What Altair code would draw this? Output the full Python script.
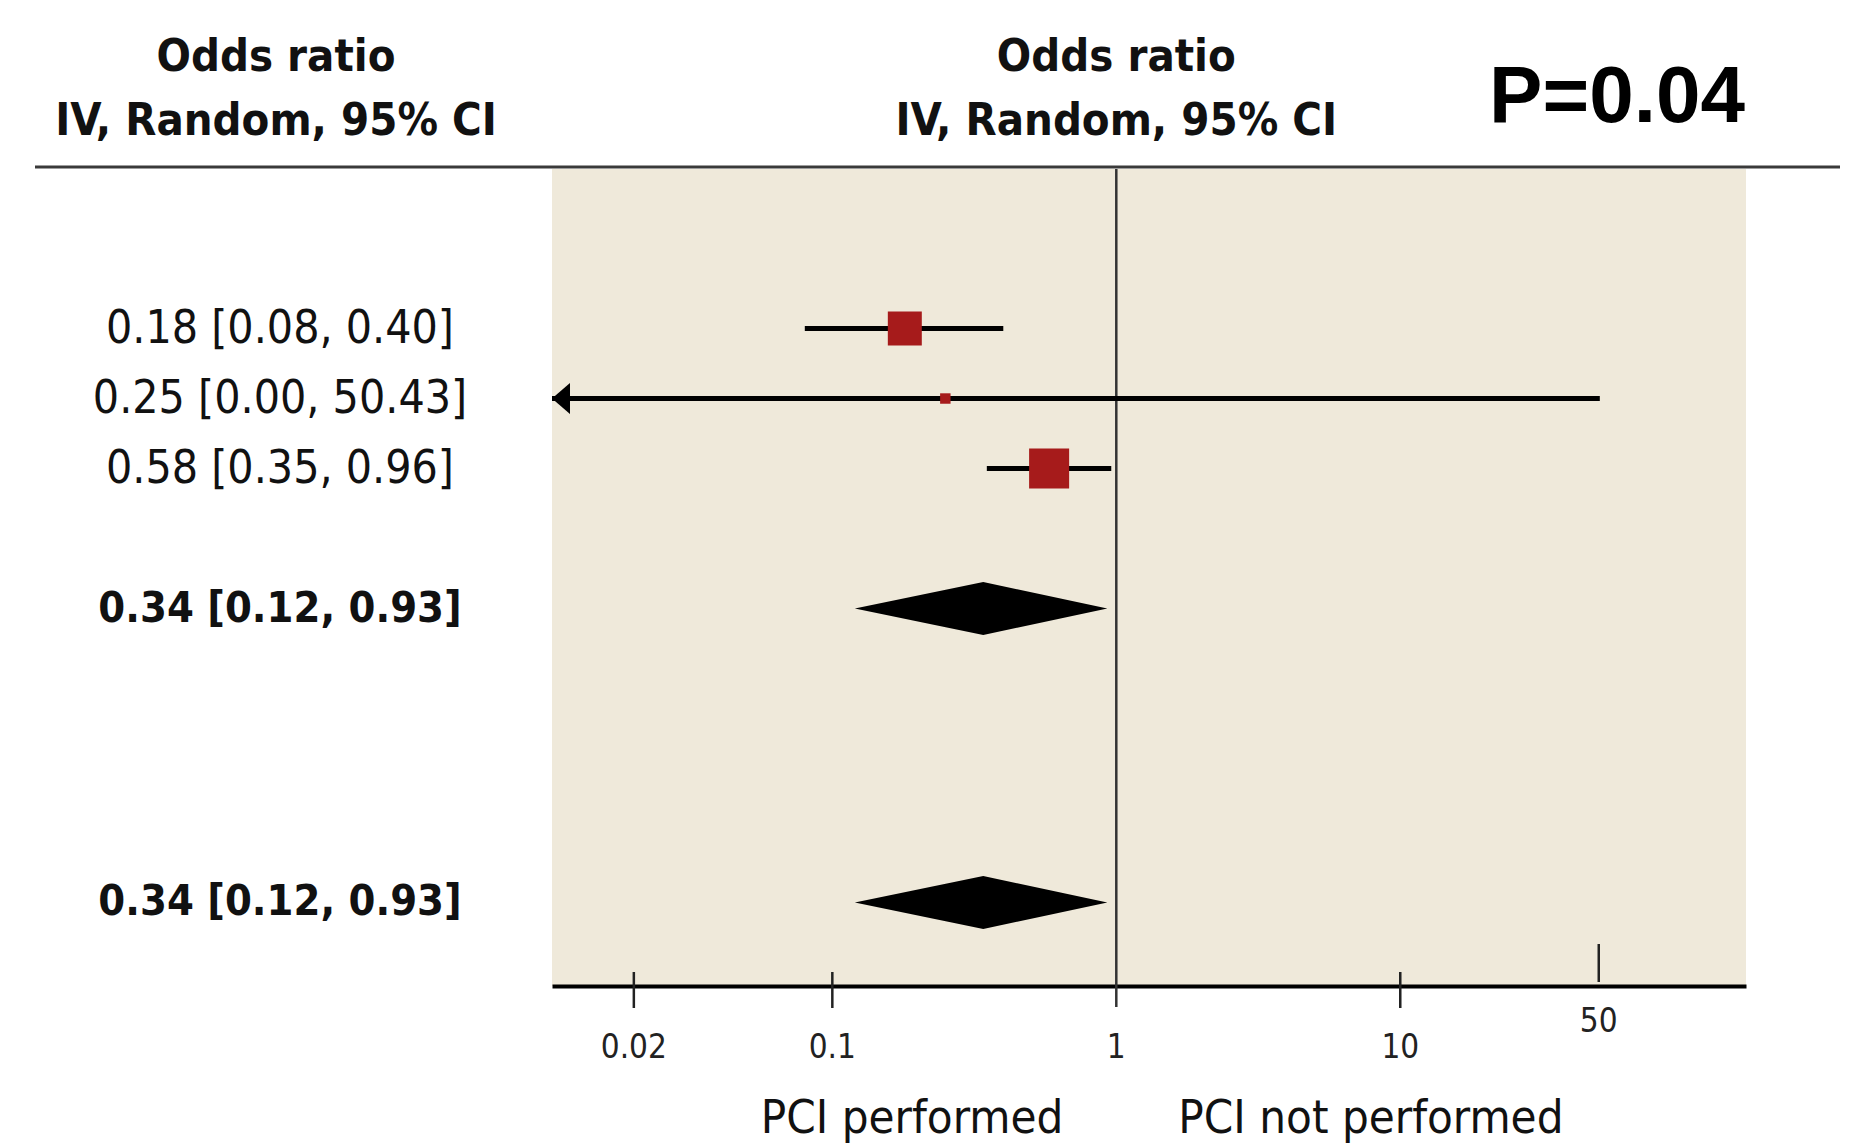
import altair as alt
import pandas as pd

# ---- study-level results (odds ratio with 95% CI) ----
study_or = [0.18, 0.25, 0.58]
study_lo = [0.08, 0.00, 0.35]
study_hi = [0.40, 50.43, 0.96]
study_weight = [40.3, 3.8, 55.9]  # % weight, drives the box area

# ---- pooled estimates (subgroup total and overall total) ----
pooled_or = [0.34, 0.34]
pooled_lo = [0.12, 0.12]
pooled_hi = [0.93, 0.93]

# ---- row slots down the forest ----
study_slot = [1, 2, 3]
pooled_slot = [5, 9.2]

# ---- axis / annotation text ----
tick_values = [0.02, 0.1, 1, 10, 50]
tick_labels = ["0.02", "0.1", "1", "10", "50"]
header_lines = ["Odds ratio", "IV, Random, 95% CI"]
p_text = "P=0.04"
favours_left = "PCI performed"
favours_right = "PCI not performed"

# ---- layout / style ----
W, H = 1194, 817
X_MIN, X_MAX = 0.0103, 165
Y_TOP, Y_BOT = -1.279, 10.393
DIAMOND_HALF = 0.379
NARROW = "DejaVu Sans Condensed, Liberation Sans Narrow, sans-serif"
RED = "#A61B1B"
BEIGE = "#EFE9DA"
INK = "#111111"


def fmt(o, lo, hi):
    return f"{o:.2f} [{lo:.2f}, {hi:.2f}]"


studies = pd.DataFrame({
    "or": study_or, "lo": study_lo, "hi": study_hi,
    "weight": study_weight, "slot": study_slot,
})
studies["lo_draw"] = studies["lo"].clip(lower=X_MIN)
studies["arrow"] = studies["lo"] < X_MIN
studies["label"] = [fmt(o, l, h) for o, l, h in zip(study_or, study_lo, study_hi)]

pooled = pd.DataFrame({"or": pooled_or, "lo": pooled_lo, "hi": pooled_hi, "slot": pooled_slot})
pooled["label"] = [fmt(o, l, h) for o, l, h in zip(pooled_or, pooled_lo, pooled_hi)]

# diamond outline: left tip, top/bottom at the estimate, right tip
diamond_rows = []
for i, r in pooled.iterrows():
    diamond_rows.append({"g": i, "x": r["lo"], "y": r["slot"], "y2": r["slot"]})
    diamond_rows.append({"g": i, "x": r["or"], "y": r["slot"] - DIAMOND_HALF, "y2": r["slot"] + DIAMOND_HALF})
    diamond_rows.append({"g": i, "x": r["hi"], "y": r["slot"], "y2": r["slot"]})
diamonds = pd.DataFrame(diamond_rows)

ticks = pd.DataFrame({"value": tick_values, "label": tick_labels})
one = alt.Data(values=[{}])

xs = alt.Scale(type="log", domain=[X_MIN, X_MAX], nice=False, zero=False)
ys = alt.Scale(domain=[Y_TOP, Y_BOT], reverse=True, nice=False, zero=False)

# x axis line only (ticks and labels drawn as layers below)
x_axis = alt.Axis(labels=False, ticks=False, grid=False, domain=True,
                  domainColor="#000000", domainWidth=4, title="")

# line of no effect
ref_line = alt.Chart(one).mark_rule(color="#333333", strokeWidth=2.5).encode(
    x=alt.X("v:Q", scale=xs, axis=x_axis), y=alt.value(0), y2=alt.value(H + 21)
).transform_calculate(v="1")

ci = alt.Chart(studies).mark_rule(color="#000000", strokeWidth=5).encode(
    x=alt.X("lo_draw:Q", scale=xs), x2="hi:Q",
    y=alt.Y("slot:Q", scale=ys, axis=None),
)

arrow = alt.Chart(studies).transform_filter("datum.arrow").mark_point(
    shape="M0,0L1.16,-1L1.16,1Z", filled=True, size=961, color="#000000",
    opacity=1, strokeWidth=0,
).encode(x=alt.X("lo_draw:Q", scale=xs), y=alt.Y("slot:Q", scale=ys))

boxes = alt.Chart(studies).mark_square(color=RED, opacity=1, strokeWidth=0).encode(
    x=alt.X("or:Q", scale=xs), y=alt.Y("slot:Q", scale=ys),
    size=alt.Size("weight:Q", scale=alt.Scale(domain=[0, 100], range=[0, 2866]), legend=None),
)

diamond = alt.Chart(diamonds).mark_area(color="#000000", opacity=1).encode(
    x=alt.X("x:Q", scale=xs), y=alt.Y("y:Q", scale=ys), y2="y2:Q", detail="g:N",
)

tick_cross = alt.Chart(ticks).transform_filter(
    "datum.value != 1 && datum.value != 50"
).mark_rule(color="#222222", strokeWidth=2.5).encode(
    x=alt.X("value:Q", scale=xs), y=alt.value(H - 14), y2=alt.value(H + 22)
)
tick_high = alt.Chart(ticks).transform_filter("datum.value == 50").mark_rule(
    color="#222222", strokeWidth=2.5
).encode(x=alt.X("value:Q", scale=xs), y=alt.value(H - 42), y2=alt.value(H - 4))

tick_text = alt.Chart(ticks).transform_filter("datum.value != 50").mark_text(
    font=NARROW, fontSize=33, color="#222222", baseline="alphabetic"
).encode(x=alt.X("value:Q", scale=xs), y=alt.value(H + 72), text="label:N")
tick_text_high = alt.Chart(ticks).transform_filter("datum.value == 50").mark_text(
    font=NARROW, fontSize=33, color="#222222", baseline="alphabetic"
).encode(x=alt.X("value:Q", scale=xs), y=alt.value(H + 46), text="label:N")

row_text = alt.Chart(studies).mark_text(
    font=NARROW, fontSize=46, color=INK, baseline="middle", align="center"
).encode(x=alt.value(-272), y=alt.Y("slot:Q", scale=ys), text="label:N")
pooled_text = alt.Chart(pooled).mark_text(
    font=NARROW, fontSize=43, fontWeight="bold", color=INK, baseline="middle", align="center"
).encode(x=alt.value(-272), y=alt.Y("slot:Q", scale=ys), text="label:N")

header_left = alt.Chart(one).mark_text(
    text=header_lines, font=NARROW, fontSize=45, fontWeight="bold", color=INK,
    lineHeight=64, baseline="alphabetic", align="center",
).encode(x=alt.value(-276), y=alt.value(-98))
header_mid = alt.Chart(one).mark_text(
    text=header_lines, font=NARROW, fontSize=45, fontWeight="bold", color=INK,
    lineHeight=64, baseline="alphabetic", align="center",
).encode(x=alt.datum(1), y=alt.value(-98))
p_label = alt.Chart(one).mark_text(
    text=p_text, font="Liberation Sans, Arial, sans-serif", fontSize=80,
    fontWeight="bold", color="#000000", baseline="alphabetic", align="center",
).encode(x=alt.value(1065), y=alt.value(-47))

header_rule = alt.Chart(one).mark_rule(color="#3a3a3a", strokeWidth=3).encode(
    x=alt.value(-517), x2=alt.value(W + 94), y=alt.value(-2)
)

fav_left = alt.Chart(one).mark_text(
    text=favours_left, font=NARROW, fontSize=47, color=INK,
    baseline="alphabetic", align="right", dx=-53,
).encode(x=alt.datum(1), y=alt.value(H + 147))
fav_right = alt.Chart(one).mark_text(
    text=favours_right, font=NARROW, fontSize=47, color=INK,
    baseline="alphabetic", align="left", dx=62,
).encode(x=alt.datum(1), y=alt.value(H + 147))

chart = alt.layer(
    ref_line, ci, arrow, boxes, diamond, tick_cross, tick_high,
    tick_text, tick_text_high, row_text, pooled_text,
    header_left, header_mid, p_label, header_rule, fav_left, fav_right,
).properties(
    width=W, height=H,
    autosize=alt.AutoSizeParams(type="none"),
    padding={"left": 552, "top": 169, "right": 108, "bottom": 159},
    background="#FFFFFF",
).configure_view(fill=BEIGE, strokeWidth=0)

chart.save("out.html", embed_options={"renderer": "svg", "actions": False})
